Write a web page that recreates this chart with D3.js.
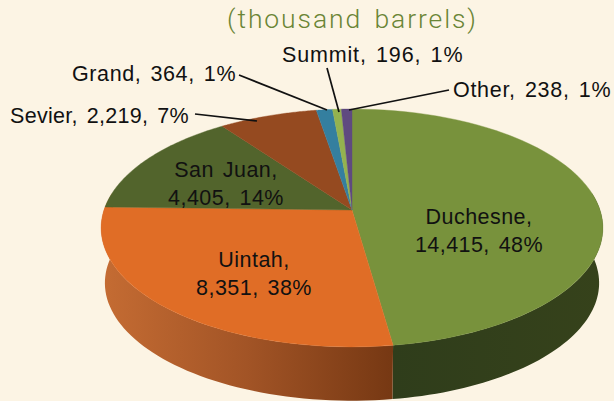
<!DOCTYPE html>
<html><head><meta charset="utf-8">
<script src="https://cdn.jsdelivr.net/npm/d3@7"></script>
<style>html,body{margin:0;padding:0;background:#fcf4e4;overflow:hidden}
text{font-family:"Liberation Sans",Arial,sans-serif;font-weight:400;fill:#111;letter-spacing:0.45px;word-spacing:2.5px}</style>
</head><body><svg id="c" width="614" height="401"></svg>
<script>
const categories=["Duchesne","Uintah","San Juan","Sevier","Grand","Summit","Other"];
const values=[14415,8351,4405,2219,364,196,238];
const valueLabels=["14,415","8,351","4,405","2,219","364","196","238"];
const percentLabels=["48%","38%","14%","7%","1%","1%","1%"];
const colors=["#78923c","#e06d26","#52642c","#954a20","#347f9f","#94b24f","#5f4a80"];
const titleText="(thousand barrels)";

// layout
const apex={x:352,y:210}, cx=248, ay=84.5, k=-0.151, depth=55, wallShrink=0.985, rimCy=228;
const svg=d3.select("#c");
const defs=svg.append("defs");
const g1=defs.append("linearGradient").attr("id","wallOrange").attr("gradientUnits","userSpaceOnUse")
 .attr("x1",101).attr("x2",393).attr("y1",0).attr("y2",0);
g1.append("stop").attr("offset",0).attr("stop-color","#c56c33");
g1.append("stop").attr("offset",0.5).attr("stop-color","#a25426");
g1.append("stop").attr("offset",1).attr("stop-color","#763813");
const g2=defs.append("linearGradient").attr("id","wallGreen").attr("gradientUnits","userSpaceOnUse")
 .attr("x1",393).attr("x2",603).attr("y1",0).attr("y2",0);
g2.append("stop").attr("offset",0).attr("stop-color","#2f3d1b");
g2.append("stop").attr("offset",1).attr("stop-color","#36421b");

// Project a ground-plane polar point into the tilted, perspective view
function project(theta){
  const x=Math.sin(theta),y=-Math.cos(theta),w=1+k*y;
  return [apex.x+cx*x/w,(apex.y+ay*y)/w];
}
function projectLow(theta){
  const p=project(theta);
  return [apex.x+(p[0]-apex.x)*wallShrink,rimCy+depth+(p[1]-rimCy)*0.99];
}
const arcs=d3.pie().value(d=>d).sort(null).startAngle(0).endAngle(2*Math.PI)(values);
const line=d3.line();
const samples=(a,b)=>d3.range(0,61).map(i=>a+(b-a)*i/60);

// side wall (only the front-facing slices are visible)
const wallFill=["url(#wallGreen)","url(#wallOrange)"];
[0,1].forEach(i=>{
  const a=arcs[i];
  const start=i===0?Math.PI/2-0.15:a.startAngle;
  const end=i===1?3*Math.PI/2+0.15:a.endAngle;
  const th=samples(start,end);
  const pts=th.map(t=>project(t)).concat(th.slice().reverse().map(projectLow));
  svg.append("path").attr("d",line(pts)+"Z").attr("fill",wallFill[i]);
});

// top face
arcs.forEach((a,i)=>{
  const pts=[[apex.x,apex.y]].concat(samples(a.startAngle,a.endAngle).map(t=>project(t)));
  svg.append("path").attr("d",line(pts)+"Z").attr("fill",colors[i]).attr("stroke",colors[i]).attr("stroke-width",0.4);
});

// title
svg.append("text").attr("x",352.5).attr("y",28).attr("text-anchor","middle")
  .attr("font-size",26.5).style("fill","#6a8535").style("font-family","Roboto,sans-serif").style("font-weight",300).style("letter-spacing","1.9px").style("word-spacing","4px").text(titleText);

// leader lines: [from x,y, to x,y] indexed by category
const leaders={3:[195,114,257,121],4:[239,75,327,110],5:[327,68,339,112],6:[449,90,349,110]};
Object.values(leaders).forEach(l=>svg.append("line")
  .attr("x1",l[0]).attr("y1",l[1]).attr("x2",l[2]).attr("y2",l[3])
  .attr("stroke","#111").attr("stroke-width",1.7));

// labels
const fs=21.5;
const twoLine={0:[479,224,252],1:[254,267,295],2:[226,177,205]};
Object.entries(twoLine).forEach(([i,p])=>{
  svg.append("text").attr("x",p[0]).attr("y",p[1]).attr("text-anchor","middle").attr("font-size",fs).text(categories[i]+",");
  svg.append("text").attr("x",p[0]).attr("y",p[2]).attr("text-anchor","middle").attr("font-size",fs).text(valueLabels[i]+", "+percentLabels[i]);
});
// x, baseline y, rendered width
const oneLine={3:[10,123,179],4:[72,81,164],5:[282,62,181],6:[453,97,158]};
Object.entries(oneLine).forEach(([i,p])=>{
  svg.append("text").attr("x",p[0]).attr("y",p[1]).attr("font-size",fs)
    .attr("textLength",p[2]).attr("lengthAdjust","spacing")
    .text(categories[i]+", "+valueLabels[i]+", "+percentLabels[i]);
});
</script></body></html>
